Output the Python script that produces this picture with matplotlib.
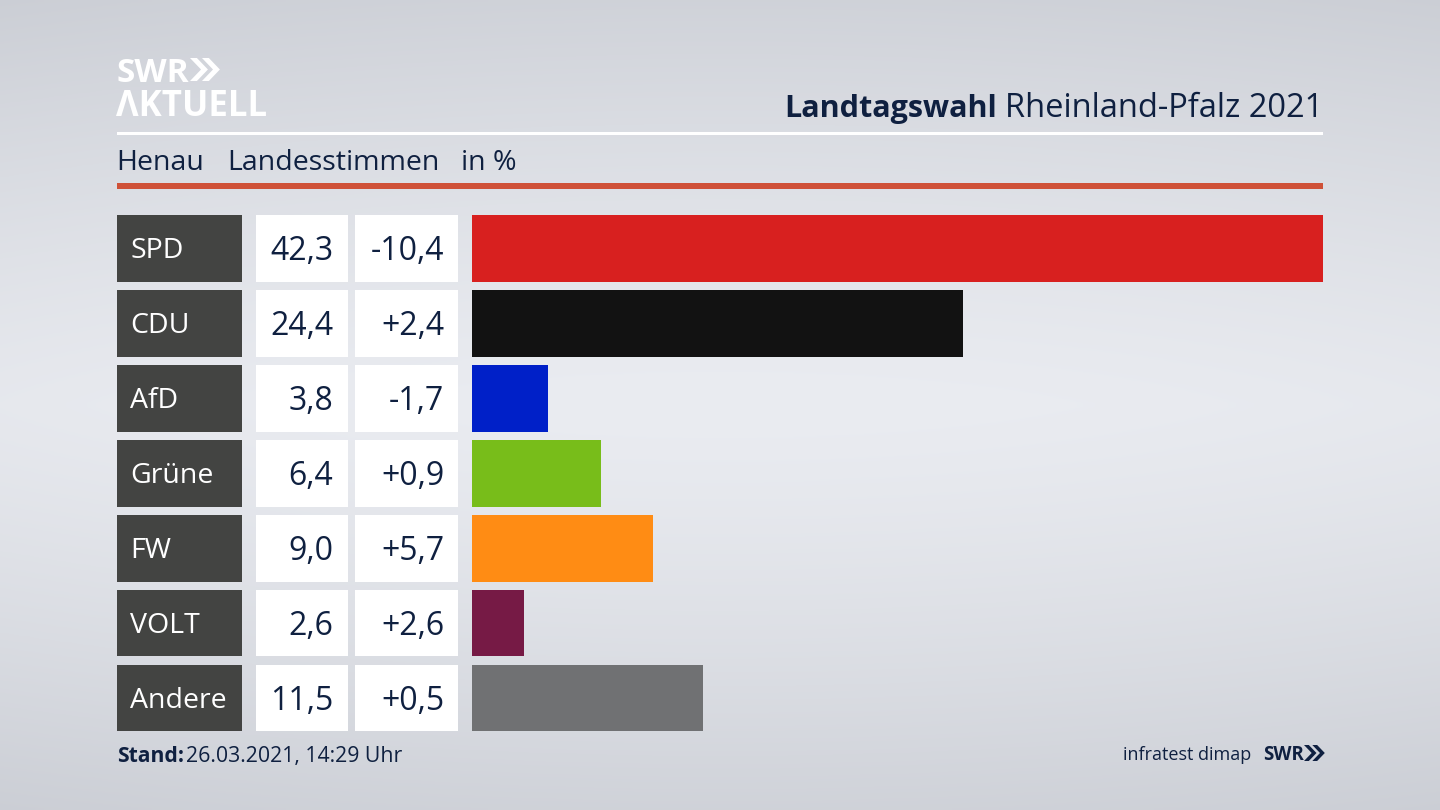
import numpy as np
import matplotlib
matplotlib.use("Agg")
import matplotlib.pyplot as plt
from matplotlib.patches import Rectangle

parties = ["SPD", "CDU", "AfD", "Grüne", "FW", "VOLT", "Andere"]
shares = [42.3, 24.4, 3.8, 6.4, 9.0, 2.6, 11.5]
changes = ["-10,4", "+2,4", "-1,7", "+0,9", "+5,7", "+2,6", "+0,5"]
colors = ["#d8201f", "#121212", "#0020c8", "#78bd1a", "#ff8c14", "#761a45", "#707173"]

W, H = 1440, 810
NAVY = "#0f2040"
FONT = "Open Sans"
plt.rcParams["font.family"] = [FONT, "DejaVu Sans"]

fig = plt.figure(figsize=(W / 100, H / 100), dpi=100)

# Background and furniture in pixel coordinates
bg = fig.add_axes([0, 0, 1, 1])
bg.set_xlim(0, W)
bg.set_ylim(H, 0)
bg.axis("off")
yy, xx = np.mgrid[0:1:270j, 0:1:480j]
dist = np.clip(np.abs(yy - 0.5) * 2, 0, 1)
dx = np.abs(xx - 0.5) * 2
val = 1 - 0.8 * dist ** 1.3 - 0.12 * dx ** 2
top = np.array([0xc9, 0xcc, 0xd3]) / 255
mid = np.array([0xea, 0xec, 0xf1]) / 255
img = top + (mid - top) * np.clip(val, 0, 1)[..., None]
bg.imshow(img, extent=(0, W, H, 0), aspect="auto", zorder=0)

def rect(x0, y0, x1, y1, color):
    bg.add_patch(Rectangle((x0, y0), x1 - x0, y1 - y0, fc=color, ec="none", zorder=1))

def chevrons(x, y, h, color):
    w = h * 0.48
    t = h * 0.30
    for off in (0, h * 0.52):
        pts = [(x + off, y), (x + off + t, y), (x + off + t + w, y + h / 2),
               (x + off + t, y + h), (x + off, y + h), (x + off + w, y + h / 2)]
        bg.fill(*zip(*pts), color=color, lw=0, zorder=3)

# Logo
bg.text(117, 82, "SWR", fontsize=24, fontweight="bold", color="white", va="baseline", ha="left", zorder=3)
chevrons(190, 58, 23, "white")
bg.text(116, 116, "ΛKTUELL", fontsize=25, fontweight="bold", color="white", va="baseline", ha="left", zorder=3)

# Title
bg.text(1323, 117, "Rheinland-Pfalz 2021", fontsize=23.5, color=NAVY, ha="right", va="baseline", zorder=3)
bg.text(997, 117, "Landtagswahl", fontsize=22, fontweight="bold", color=NAVY, ha="right", va="baseline", zorder=3)
rect(117, 132, 1323, 135, "white")

# Subtitle
for x, s in zip((116, 227, 461), ("Henau", "Landesstimmen", "in %")):
    bg.text(x, 170, s, fontsize=20.5, color=NAVY, ha="left", va="baseline", zorder=3)
rect(117, 183, 1323, 189, "#cf5138")

# Table cells
pitch = 74.95
for i, (p, s, c) in enumerate(zip(parties, shares, changes)):
    y0 = 215 + i * pitch
    y1 = y0 + 66.7
    ym = (y0 + y1) / 2
    rect(117, y0, 241.5, y1, "#434442")
    rect(255.5, y0, 348, y1, "white")
    rect(354.5, y0, 458, y1, "white")
    bg.text(130.5, ym + 10, p, fontsize=20.5, color="white", ha="left", va="baseline", zorder=3)
    bg.text(333.5, ym + 12, f"{s:.1f}".replace(".", ","), fontsize=23, color=NAVY, ha="right", va="baseline", zorder=3)
    bg.text(444.5, ym + 12, c, fontsize=23, color=NAVY, ha="right", va="baseline", zorder=3)

# Footer
bg.text(117, 762, "Stand:", fontsize=15.2, fontweight="bold", color=NAVY, ha="left", va="baseline", zorder=3)
bg.text(186, 762, "26.03.2021, 14:29 Uhr", fontsize=15.3, color=NAVY, ha="left", va="baseline", zorder=3)
bg.text(1251, 760, "infratest dimap", fontsize=13, color=NAVY, ha="right", va="baseline", zorder=3)
bg.text(1263, 760, "SWR", fontsize=13.5, fontweight="bold", color=NAVY, ha="left", va="baseline", zorder=3)
chevrons(1304, 745, 16, NAVY)

# Bars
ax = fig.add_axes([472 / W, 1 - 731.4 / H, (1323 - 472) / W, (731.4 - 215) / H])
ax.patch.set_alpha(0)
ypos = np.arange(len(parties))
ax.barh(ypos, shares, height=0.89, color=colors)
ax.set_xlim(0, max(shares))
ax.set_ylim(len(parties) - 1 + 0.445, -0.445)
ax.axis("off")

fig.savefig("out.png", dpi=100)
